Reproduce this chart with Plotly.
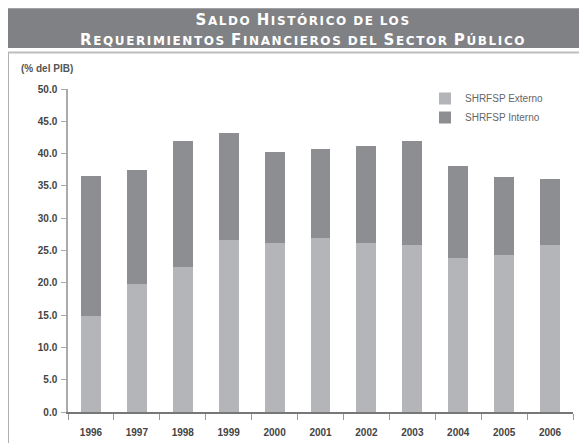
import plotly.graph_objects as go

years = ["1996", "1997", "1998", "1999", "2000", "2001", "2002", "2003", "2004", "2005", "2006"]
shrfsp_externo = [14.8, 19.8, 22.4, 26.6, 26.1, 27.0, 26.2, 25.8, 23.8, 24.3, 25.8]
totals = [36.5, 37.5, 41.9, 43.2, 40.2, 40.7, 41.1, 41.9, 38.1, 36.4, 36.1]
shrfsp_interno = [round(t - e, 1) for t, e in zip(totals, shrfsp_externo)]
y_ticks = [0, 5, 10, 15, 20, 25, 30, 35, 40, 45, 50]

title_lines = ["Saldo Histórico de los", "Requerimientos Financieros del Sector Público"]

# page body has an 8px default margin: draw in page pixels, offset by it
OFF = 8
W, H = 587 - OFF, 443 - OFF
L, R, T, B = 68 - OFF, 14, 89 - OFF, 30.5
pw, ph = W - L - R, H - T - B

def px(x):
    return (x - OFF - L) / pw

def py(y):
    return (H - B - (y - OFF)) / ph

def small_caps(s, big=15, small=12):
    out = []
    for ch in s:
        if ch == " ":
            out.append(" ")
        elif ch.isupper():
            out.append(f'<span style="font-size:{big}px;letter-spacing:1.6px">{ch}</span>')
        else:
            out.append(f'<span style="font-size:{small}px;letter-spacing:1.6px">{ch.upper()}</span>')
    return "".join(out)

title_html = "<br>".join(small_caps(s) for s in title_lines)

fig = go.Figure()
fig.add_trace(go.Bar(x=years, y=shrfsp_externo, name="SHRFSP Externo",
                     marker=dict(color="#b4b5b8", line=dict(width=0))))
fig.add_trace(go.Bar(x=years, y=shrfsp_interno, name="SHRFSP Interno",
                     marker=dict(color="#8d8e92", line=dict(width=0))))

tickfont = dict(family="Liberation Sans", size=10, color="#444444", weight="bold")

fig.update_layout(
    width=W, height=H,
    margin=dict(l=L, r=R, t=T, b=B, autoexpand=False),
    paper_bgcolor="white", plot_bgcolor="white",
    barmode="stack", bargap=0.565,
    showlegend=True,
    legend=dict(x=px(425), y=py(84), xanchor="left", yanchor="top",
                traceorder="normal", font=dict(family="Liberation Sans", size=10, color="#666666"),
                bgcolor="rgba(0,0,0,0)", itemwidth=30, tracegroupgap=5),
    xaxis=dict(type="category", range=[-0.5, 10.5], tickson="boundaries",
               ticks="outside", ticklen=6, tickcolor="#999999",
               showline=True, linecolor="#777777", linewidth=1.5,
               showgrid=False, tickfont=tickfont, ticklabelstandoff=10),
    yaxis=dict(range=[0, 50], tickvals=y_ticks, tickformat=".1f",
               ticks="outside", ticklen=5, tickcolor="#aaaaaa",
               showline=True, linecolor="#aaaaaa", linewidth=1.5,
               showgrid=False, zeroline=False, tickfont=tickfont, ticklabelstandoff=2),
    shapes=[
        dict(type="rect", xref="paper", yref="paper", x0=px(5), x1=px(600), y0=py(8), y1=py(48),
             fillcolor="#808184", line=dict(width=0), layer="below"),
        dict(type="line", xref="paper", yref="paper", x0=px(7), x1=px(600), y0=py(52.5), y1=py(52.5),
             line=dict(color="#bdbdbd", width=2)),
        dict(type="line", xref="paper", yref="paper", x0=px(8), x1=px(8), y0=py(52.5), y1=py(460),
             line=dict(color="#b0b0b0", width=2)),
    ],
    annotations=[
        dict(xref="paper", yref="paper", x=px(303), y=py(29.5), xanchor="center", yanchor="middle",
             text=title_html, showarrow=False, align="center",
             font=dict(family="DejaVu Sans", size=15, color="white", weight="bold")),
        dict(xref="paper", yref="paper", x=px(19), y=py(68), xanchor="left", yanchor="middle",
             text="(% del PIB)", showarrow=False,
             font=dict(family="Liberation Sans", size=10, color="#555555", weight="bold")),
    ],
)

fig.write_html("out.html")
